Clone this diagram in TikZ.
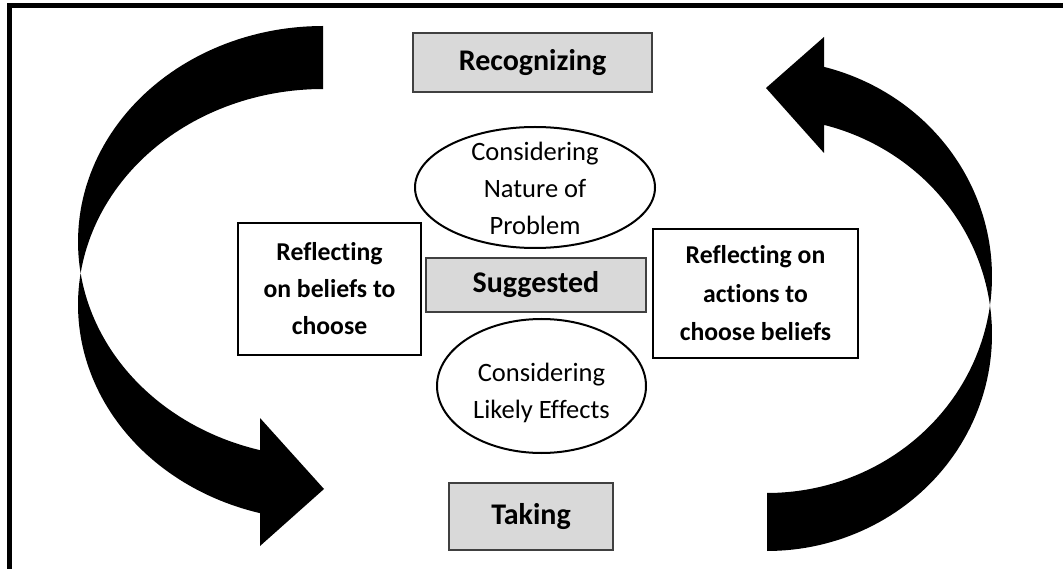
\documentclass[tikz,border=0pt]{standalone}
\usepackage{fontspec}
\setmainfont{Carlito}[RawFeature={-liga}]
\usetikzlibrary{shapes.geometric}
\definecolor{boxgray}{HTML}{D9D9D9}
\definecolor{boxline}{HTML}{404040}
\begin{document}
\begin{tikzpicture}[x=1pt,y=-1pt,
  graybox/.style={draw=boxline, line width=1.5pt, fill=boxgray, inner sep=0pt,
    font=\fontsize{30}{37}\selectfont\bfseries, align=center},
  whitebox/.style={draw=black, line width=2.5pt, fill=white, inner sep=0pt,
    font=\fontsize{25.7}{37}\selectfont\bfseries, align=center},
  oval/.style={ellipse, draw=black, line width=2pt, fill=white, inner sep=0pt},
  ovaltext/.style={font=\fontsize{26.5}{37}\selectfont, align=center, inner sep=0pt},
  bigarrow/.style={fill=black}]
\useasboundingbox (0,0) rectangle (1063,569);
% frame
\draw[line width=5pt] (9,580) -- (9,5.8) -- (1075,5.8);
% left curved arrow
\fill[bigarrow]
  plot[domain=270:171.6, samples=60] ({323+245*cos(\x)}, {241.7+215.7*sin(\x)})
  -- plot[domain=188.4:104.9, samples=60] ({323+245*cos(\x)}, {304.7+215.7*sin(\x)})
  -- (260,546) -- (324,489) -- (260,418)
  -- plot[domain=104.9:171.6, samples=60] ({323+245*cos(\x)}, {241.7+215.7*sin(\x)})
  -- plot[domain=188.4:270, samples=60] ({323+245*cos(\x)}, {304.7+215.7*sin(\x)})
  -- cycle;
% right curved arrow
\fill[bigarrow]
  plot[domain=90:-7.7, samples=60] ({767+225*cos(\x)}, {334.4+216.6*sin(\x)})
  -- plot[domain=7.7:-75.3, samples=60] ({767+225*cos(\x)}, {276.4+216.6*sin(\x)})
  -- (824,37) -- (766,88) -- (824,153)
  -- plot[domain=-75.3:-7.7, samples=60] ({767+225*cos(\x)}, {334.4+216.6*sin(\x)})
  -- plot[domain=7.7:90, samples=60] ({767+225*cos(\x)}, {276.4+216.6*sin(\x)})
  -- cycle;
% nodes
\node[graybox, minimum width=239pt, minimum height=59pt] (recog) at (532.5,62.5) {Recognizing};
\node[oval, minimum width=240pt, minimum height=121pt] (nature) at (535,187.5) {};
\node[ovaltext] (naturetext) at (535,188) {Considering\\Nature of\\Problem};
\node[graybox, minimum width=220pt, minimum height=54pt] (sugg) at (536,285) {Suggested};
\node[whitebox, minimum width=183pt, minimum height=132pt] (beliefs) at (329.5,289) {Reflecting\\on beliefs to\\choose};
\node[whitebox, minimum width=205pt, minimum height=129pt, font=\fontsize{25.7}{38.5}\selectfont\bfseries] (actions) at (755.5,293.5) {Reflecting on\\actions to\\choose beliefs};
\node[oval, minimum width=209pt, minimum height=134pt] (effects) at (541.5,386) {};
\node[ovaltext] (effectstext) at (541.5,393) {Considering\\Likely Effects};
\node[graybox, minimum width=164pt, minimum height=67pt] (taking) at (531,516.5) {Taking};
\end{tikzpicture}
\end{document}
